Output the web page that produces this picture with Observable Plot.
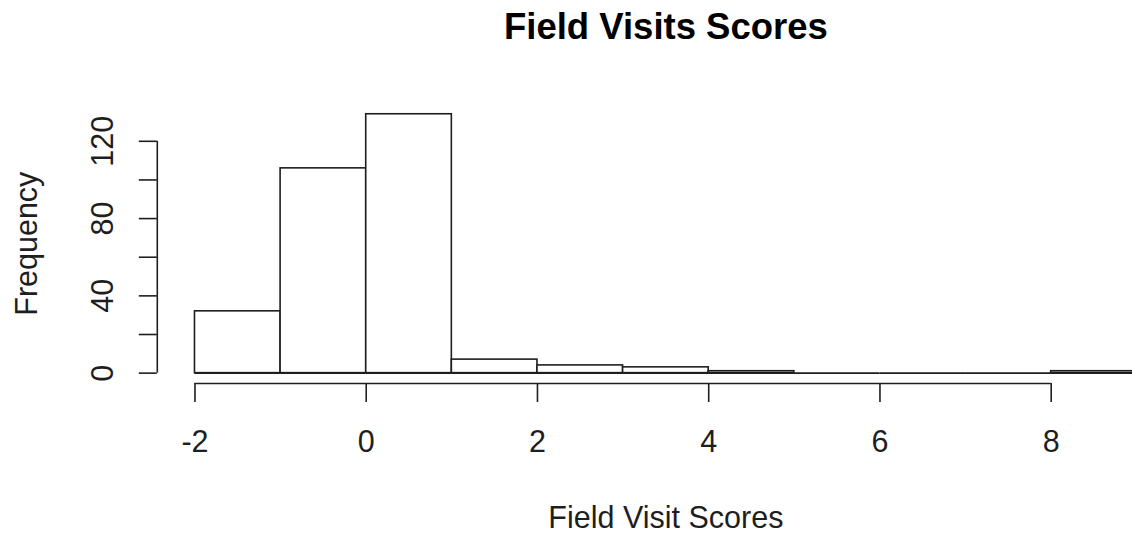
<!DOCTYPE html>
<html><head><meta charset="utf-8">
<script src="https://cdn.jsdelivr.net/npm/d3@7"></script>
<script src="https://cdn.jsdelivr.net/npm/@observablehq/plot@0.6"></script>
<style>
html,body{margin:0;padding:0;background:#fff;overflow:hidden;width:1132px;height:533px}
#chart{width:1174px;height:533px}
#chart svg{display:block;max-width:none !important;width:1174px !important;height:533px !important}
</style>
</head><body><div id="chart"></div>
<script>
// Histogram bins (R hist, breaks of width 1)
const binStart = [-2, -1, 0, 1, 2, 3, 4, 5, 6, 7, 8];
const binEnd   = [-1,  0, 1, 2, 3, 4, 5, 6, 7, 8, 9];
const counts   = [32, 106, 134, 7, 4, 3, 1, 0, 0, 0, 1];
const xTicks = [-2, 0, 2, 4, 6, 8];
const yTicks = [0, 20, 40, 60, 80, 100, 120];
const yTickLabels = [0, 40, 80, 120];
const title = "Field Visits Scores";
const xLabel = "Field Visit Scores";
const yLabel = "Frequency";

const bins = binStart.map((s, i) => ({x1: s, x2: binEnd[i], count: counts[i]}));
const xr = [d3.min(binStart), d3.max(binEnd)];
const xpad = (xr[1] - xr[0]) * 0.04;
const xDomain = [xr[0] - xpad, xr[1] + xpad];
const yMax = d3.max(counts);
const yDomain = [-yMax * 0.04, yMax * 1.04];
const ink = "#1e1e1e";
const lw = 1.6;

const chart = Plot.plot({
  width: 1174,
  height: 533,
  marginLeft: 156.8,
  marginRight: 0,
  marginTop: 103.4,
  marginBottom: 150,
  style: {fontFamily: "'Liberation Sans', Arial, Helvetica, sans-serif", fontSize: "30.5px", color: ink, background: "#fff", maxWidth: "none"},
  x: {domain: xDomain, label: null},
  y: {domain: yDomain, label: null},
  marks: [
    Plot.rect(bins, {x1: "x1", x2: "x2", y1: 0, y2: "count", fill: "white", stroke: ink, strokeWidth: lw}),
    Plot.ruleY(bins, {x1: "x1", x2: "x2", y: 0, stroke: ink, strokeWidth: lw}),
    Plot.ruleY([yDomain[0]], {x1: d3.min(xTicks), x2: d3.max(xTicks), stroke: ink, strokeWidth: lw}),
    Plot.ruleX([xDomain[0]], {y1: d3.min(yTicks), y2: d3.max(yTicks), stroke: ink, strokeWidth: lw}),
    Plot.axisX(xTicks, {tickSize: 19, tickPadding: 28, tickFormat: d => String(d), color: ink, strokeWidth: lw, label: null, fontSize: 30.5}),
    Plot.axisY(yTicks, {tickSize: 18, tickFormat: () => "", color: ink, strokeWidth: lw, label: null}),
    Plot.text(yTickLabels, {x: xDomain[0], y: d => d, text: d => String(d), rotate: -90, dx: -44, lineAnchor: "bottom", textAnchor: "middle", fontSize: 30.5, fill: ink}),
    Plot.text([yLabel], {frameAnchor: "left", text: d => d, rotate: -90, dx: -120, lineAnchor: "bottom", textAnchor: "middle", fontSize: 30.5, fill: ink}),
    Plot.text([xLabel], {frameAnchor: "bottom", text: d => d, dy: 144, lineAnchor: "bottom", textAnchor: "middle", fontSize: 30.5, fill: ink}),
    Plot.text([title], {frameAnchor: "top", text: d => d, dy: -65.4, lineAnchor: "bottom", textAnchor: "middle", fontSize: 36.5, fontWeight: "bold", fill: "#000"})
  ]
});
document.getElementById("chart").appendChild(chart);
</script>
</body></html>
